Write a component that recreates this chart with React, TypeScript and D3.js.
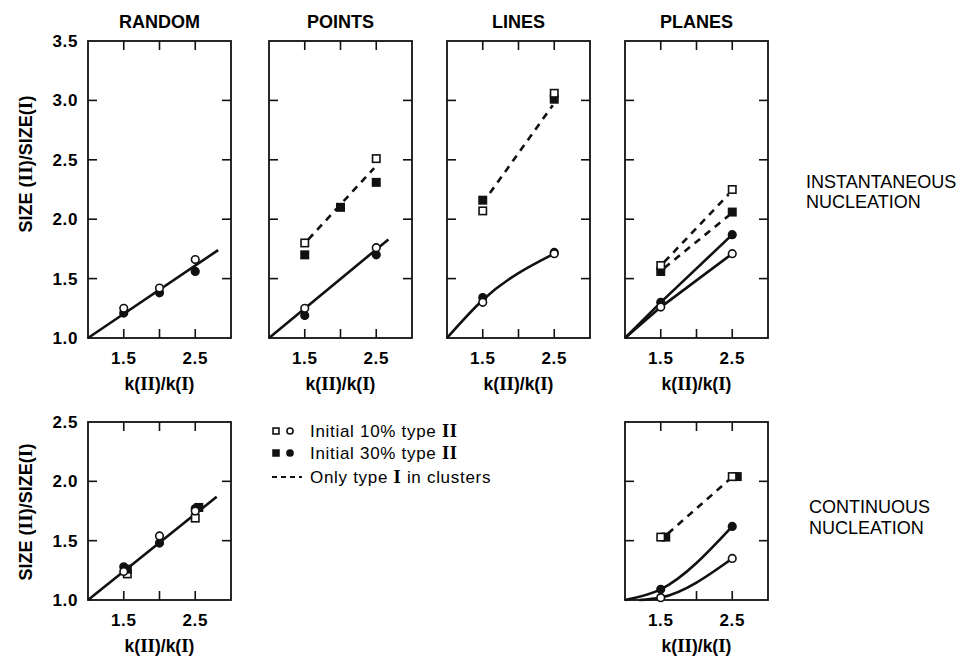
import * as d3 from 'd3'

// panel titles and axes
const panelTitles = ['RANDOM', 'POINTS', 'LINES', 'PLANES']
const xTicks = [1.5, 2.0, 2.5]
const xTickLabels = ['1.5', '', '2.5']
const yTicksTop = [1.0, 1.5, 2.0, 2.5, 3.0, 3.5]
const yTicksBottom = [1.0, 1.5, 2.0, 2.5]
const legendLabels = ['Initial 10% type II', 'Initial 30% type II', 'Only type I in clusters']

// INSTANTANEOUS - RANDOM
const randInstOpenC = [[1.5, 1.25], [2.0, 1.42], [2.5, 1.66]]
const randInstFillC = [[1.5, 1.21], [2.0, 1.38], [2.5, 1.56]]
const randInstFit = [[1.0, 1.0], [2.82, 1.74]]

// INSTANTANEOUS - POINTS
const ptsInstOpenS = [[1.5, 1.8], [2.5, 2.51]]
const ptsInstFillS = [[1.5, 1.7], [2.0, 2.1], [2.5, 2.31]]
const ptsInstDash = [[1.55, 1.83], [2.47, 2.43]]
const ptsInstOpenC = [[1.5, 1.25], [2.5, 1.76]]
const ptsInstFillC = [[1.5, 1.19], [2.5, 1.7]]
const ptsInstFit = [[1.0, 1.0], [2.67, 1.83]]

// INSTANTANEOUS - LINES
const linInstOpenS = [[1.5, 2.07], [2.5, 3.06]]
const linInstFillS = [[1.5, 2.16], [2.5, 3.01]]
const linInstDash = [[1.6, 2.22], [2.48, 2.96]]
const linInstOpenC = [[1.5, 1.3], [2.5, 1.71]]
const linInstFillC = [[1.5, 1.34], [2.5, 1.72]]
const linInstFit = [[1.0, 1.0], [1.5, 1.32], [2.5, 1.71]]

// INSTANTANEOUS - PLANES
const plnInstOpenS = [[1.5, 1.61], [2.5, 2.25]]
const plnInstFillS = [[1.5, 1.56], [2.5, 2.06]]
const plnInstDashOpen = [[1.55, 1.64], [2.45, 2.21]]
const plnInstDashFill = [[1.55, 1.59], [2.45, 2.03]]
const plnInstOpenC = [[1.5, 1.26], [2.5, 1.71]]
const plnInstFillC = [[1.5, 1.3], [2.5, 1.87]]
const plnInstFitOpen = [[1.0, 1.0], [1.5, 1.26], [2.5, 1.71]]
const plnInstFitFill = [[1.0, 1.0], [1.5, 1.3], [2.5, 1.87]]

// CONTINUOUS - RANDOM
const randContOpenS = [[1.55, 1.22], [2.5, 1.69]]
const randContFillS = [[1.55, 1.26], [2.55, 1.78]]
const randContOpenC = [[1.5, 1.24], [2.0, 1.54], [2.5, 1.75]]
const randContFillC = [[1.5, 1.28], [2.0, 1.48], [2.5, 1.77]]
const randContFit = [[1.0, 1.0], [2.8, 1.87]]

// CONTINUOUS - PLANES
const plnContOpenS = [[1.5, 1.53], [2.5, 2.04]]
const plnContFillS = [[1.57, 1.53], [2.57, 2.04]]
const plnContDash = [[1.6, 1.56], [2.45, 2.01]]
const plnContOpenC = [[1.5, 1.02], [2.5, 1.35]]
const plnContFillC = [[1.5, 1.09], [2.5, 1.62]]
const plnContFitOpen = [[1.2, 1.0], [1.5, 1.02], [2.5, 1.35]]
const plnContFitFill = [[1.0, 1.0], [1.5, 1.09], [2.5, 1.62]]

type Mark = { pts: number[][]; shape: 'c' | 's'; filled: boolean }
type Curve = { pts: number[][]; dashed?: boolean; smooth?: boolean }
type Panel = {
  left: number
  top: number
  bottom: number
  yDomain: number[]
  yTicks: number[]
  title?: string
  yLabels: boolean
  yLabelMid: number
  curves: Curve[]
  marks: Mark[]
}

const W = 143
const font = 'Liberation Sans, Arial, Helvetica, sans-serif'
const serif = 'Liberation Serif, Times New Roman, serif'

const panels: Panel[] = [
  {
    left: 88, top: 41, bottom: 338, yDomain: [1, 3.5], yTicks: yTicksTop, title: panelTitles[0], yLabels: true, yLabelMid: 164,
    curves: [{ pts: randInstFit }],
    marks: [
      { pts: randInstFillC, shape: 'c', filled: true },
      { pts: randInstOpenC, shape: 'c', filled: false },
    ],
  },
  {
    left: 269, top: 41, bottom: 338, yDomain: [1, 3.5], yTicks: yTicksTop, title: panelTitles[1], yLabels: false, yLabelMid: 0,
    curves: [{ pts: ptsInstFit }, { pts: ptsInstDash, dashed: true }],
    marks: [
      { pts: ptsInstFillC, shape: 'c', filled: true },
      { pts: ptsInstOpenC, shape: 'c', filled: false },
      { pts: ptsInstFillS, shape: 's', filled: true },
      { pts: ptsInstOpenS, shape: 's', filled: false },
    ],
  },
  {
    left: 447, top: 41, bottom: 338, yDomain: [1, 3.5], yTicks: yTicksTop, title: panelTitles[2], yLabels: false, yLabelMid: 0,
    curves: [{ pts: linInstFit, smooth: true }, { pts: linInstDash, dashed: true }],
    marks: [
      { pts: linInstFillC, shape: 'c', filled: true },
      { pts: linInstOpenC, shape: 'c', filled: false },
      { pts: linInstFillS, shape: 's', filled: true },
      { pts: linInstOpenS, shape: 's', filled: false },
    ],
  },
  {
    left: 625, top: 41, bottom: 338, yDomain: [1, 3.5], yTicks: yTicksTop, title: panelTitles[3], yLabels: false, yLabelMid: 0,
    curves: [
      { pts: plnInstFitOpen },
      { pts: plnInstFitFill },
      { pts: plnInstDashOpen, dashed: true },
      { pts: plnInstDashFill, dashed: true },
    ],
    marks: [
      { pts: plnInstFillC, shape: 'c', filled: true },
      { pts: plnInstOpenC, shape: 'c', filled: false },
      { pts: plnInstFillS, shape: 's', filled: true },
      { pts: plnInstOpenS, shape: 's', filled: false },
    ],
  },
  {
    left: 88, top: 422, bottom: 600, yDomain: [1, 2.5], yTicks: yTicksBottom, yLabels: true, yLabelMid: 512,
    curves: [{ pts: randContFit }],
    marks: [
      { pts: randContOpenS, shape: 's', filled: false },
      { pts: randContFillS, shape: 's', filled: true },
      { pts: randContFillC, shape: 'c', filled: true },
      { pts: randContOpenC, shape: 'c', filled: false },
    ],
  },
  {
    left: 625, top: 422, bottom: 600, yDomain: [1, 2.5], yTicks: yTicksBottom, yLabels: false, yLabelMid: 0,
    curves: [
      { pts: plnContFitFill, smooth: true },
      { pts: plnContFitOpen, smooth: true },
      { pts: plnContDash, dashed: true },
    ],
    marks: [
      { pts: plnContFillC, shape: 'c', filled: true },
      { pts: plnContOpenC, shape: 'c', filled: false },
      { pts: plnContFillS, shape: 's', filled: true },
      { pts: plnContOpenS, shape: 's', filled: false },
    ],
  },
]

// k(II)/k(I) with serif roman numerals
const KLabel = ({ x, y }: { x: number; y: number }) => (
  <text x={x} y={y} textAnchor="middle" fontFamily={font} fontSize={17.5} fontWeight="bold">
    k(<tspan fontFamily={serif} fontSize={19}>II</tspan>)/k(<tspan fontFamily={serif} fontSize={19}>I</tspan>)
  </text>
)

const Marker = ({ x, y, shape, filled, size = 1 }: { x: number; y: number; shape: 'c' | 's'; filled: boolean; size?: number }) =>
  shape === 'c' ? (
    <circle cx={x} cy={y} r={3.8 * size} fill={filled ? '#111' : '#fff'} stroke="#111" strokeWidth={1.6} />
  ) : (
    <rect x={x - 3.7 * size} y={y - 3.7 * size} width={7.4 * size} height={7.4 * size} fill={filled ? '#111' : '#fff'} stroke="#111" strokeWidth={1.6} />
  )

const PanelView = ({ p }: { p: Panel }) => {
  const x = d3.scaleLinear().domain([1, 3]).range([p.left, p.left + W])
  const y = d3.scaleLinear().domain(p.yDomain).range([p.bottom, p.top])
  const tl = 9
  const innerY = p.yTicks.filter((t) => t > p.yDomain[0] && t < p.yDomain[1])
  return (
    <g>
      {p.title && (
        <text x={x(2)} y={p.top - 13} textAnchor="middle" fontFamily={font} fontWeight="bold" fontSize={18}>
          {p.title}
        </text>
      )}
      <rect x={p.left} y={p.top} width={W} height={p.bottom - p.top} fill="none" stroke="#111" strokeWidth={1.8} />
      {xTicks.map((t) => (
        <g key={'x' + t} stroke="#111" strokeWidth={1.6}>
          <line x1={x(t)} x2={x(t)} y1={p.bottom} y2={p.bottom - tl} />
          <line x1={x(t)} x2={x(t)} y1={p.top} y2={p.top + tl} />
        </g>
      ))}
      {innerY.map((t) => (
        <g key={'y' + t} stroke="#111" strokeWidth={1.6}>
          <line x1={p.left} x2={p.left + tl} y1={y(t)} y2={y(t)} />
          <line x1={p.left + W} x2={p.left + W - tl} y1={y(t)} y2={y(t)} />
        </g>
      ))}
      {xTicks.map((t, i) =>
        xTickLabels[i] ? (
          <text key={'xl' + t} x={x(t)} y={p.bottom + 26} textAnchor="middle" fontFamily={font} fontWeight="bold" fontSize={17} letterSpacing={0.6}>
            {xTickLabels[i]}
          </text>
        ) : null
      )}
      <KLabel x={x(2)} y={p.bottom + 52} />
      {p.yLabels &&
        p.yTicks.map((t) => (
          <text key={'yl' + t} x={p.left - 10} y={y(t) + 6} textAnchor="end" fontFamily={font} fontWeight="bold" fontSize={17} letterSpacing={0.6}>
            {t.toFixed(1)}
          </text>
        ))}
      {p.yLabels && (
        <text
          transform={`translate(${p.left - 56},${p.yLabelMid}) rotate(-90)`}
          textAnchor="middle"
          fontFamily={font}
          fontWeight="bold"
          fontSize={18}
        >
          SIZE (<tspan fontFamily={serif} fontSize={19.5}>II</tspan>)/SIZE(<tspan fontFamily={serif} fontSize={19.5}>I</tspan>)
        </text>
      )}
      {p.curves.map((c, i) => {
        const gen = d3
          .line<number[]>()
          .x((d) => x(d[0]))
          .y((d) => y(d[1]))
          .curve(c.smooth ? d3.curveMonotoneX : d3.curveLinear)
        return (
          <path
            key={'c' + i}
            d={gen(c.pts) || ''}
            fill="none"
            stroke="#111"
            strokeWidth={2.6}
            strokeDasharray={c.dashed ? '7 6' : undefined}
          />
        )
      })}
      {p.marks.map((m, i) =>
        m.pts.map((d, j) => <Marker key={`m${i}-${j}`} x={x(d[0])} y={y(d[1])} shape={m.shape} filled={m.filled} />)
      )}
    </g>
  )
}

export default function App() {
  const legendY = [431, 453, 477]
  return (
    <svg width={959} height={657} style={{ position: 'absolute', left: 0, top: 0, background: '#fff' }}>
      <rect width={959} height={657} fill="#fff" />
      {panels.map((p, i) => (
        <PanelView key={i} p={p} />
      ))}
      {/* legend */}
      <Marker x={276} y={legendY[0]} shape="s" filled={false} size={0.8} />
      <Marker x={290} y={legendY[0]} shape="c" filled={false} size={0.8} />
      <Marker x={276} y={legendY[1]} shape="s" filled={true} size={0.8} />
      <Marker x={290} y={legendY[1]} shape="c" filled={true} size={0.8} />
      <line x1={272} x2={302} y1={legendY[2]} y2={legendY[2]} stroke="#111" strokeWidth={1.8} strokeDasharray="5 4" />
      {legendLabels.map((l, i) => (
        <text key={l} x={310} y={legendY[i] + 6} fontFamily={font} fontSize={17} letterSpacing={0.7}>
          {l.split(/(I+)$|(I)(?= in)/).filter(Boolean).map((s, k) =>
            /^I+$/.test(s) ? (
              <tspan key={k} fontFamily={serif} fontWeight="bold" fontSize={18.5}>{s}</tspan>
            ) : (
              <tspan key={k}>{s}</tspan>
            )
          )}
        </text>
      ))}
      <text fontFamily={font} fontSize={18}>
        <tspan x={806} y={188}>INSTANTANEOUS</tspan>
        <tspan x={806} y={208}>NUCLEATION</tspan>
      </text>
      <text fontFamily={font} fontSize={18}>
        <tspan x={809} y={513}>CONTINUOUS</tspan>
        <tspan x={809} y={534}>NUCLEATION</tspan>
      </text>
    </svg>
  )
}
